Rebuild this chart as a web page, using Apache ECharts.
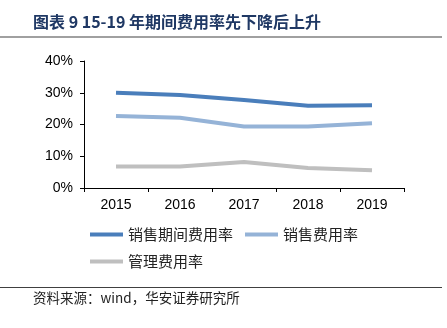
<!DOCTYPE html>
<html><head><meta charset="utf-8">
<script src="https://cdn.jsdelivr.net/npm/echarts@6/dist/echarts.min.js"></script>
<style>html,body{margin:0;padding:0;background:#fff}#c{width:447px;height:328px}</style>
</head><body><div id="c"></div>
<script>
const categories = ['2015','2016','2017','2018','2019'];
const seriesNames = ['销售期间费用率','销售费用率','管理费用率'];
const periodRate = [30.0, 29.3, 27.7, 25.9, 26.1];
const salesRate = [22.7, 22.1, 19.4, 19.4, 20.4];
const mgmtRate = [6.8, 6.8, 8.2, 6.3, 5.6];
const yTicks = [0, 10, 20, 30, 40];
const colors = ['#4A7EBB', '#95B3D7', '#BFBFBF'];

const chart = echarts.init(document.getElementById('c'));
const mk = (name, data, color) => ({
  name, type: 'line', data, symbol: 'none', smooth: false,
  lineStyle: { color, width: 4 }, itemStyle: { color }
});
const legendText = { fontFamily: 'Noto Sans CJK SC', fontSize: 15, color: '#222' };
chart.setOption({
  animation: false,
  title: {
    text: '图表 9 15-19 年期间费用率先下降后上升',
    left: 33, top: 14, padding: 0,
    textStyle: { fontFamily: 'Noto Sans CJK SC', fontWeight: 'bold', fontSize: 16, color: '#1F3864' }
  },
  graphic: [
    { type: 'rect', shape: { x: 0, y: 36, width: 442, height: 2 }, style: { fill: '#A0A0A0' } },
    { type: 'rect', shape: { x: 0, y: 287, width: 442, height: 1 }, style: { fill: '#404040' } },
    { type: 'text', left: 33, top: 291, style: { text: '资料来源：wind，华安证券研究所', font: '13.5px "Noto Sans CJK SC"', fill: '#222' } }
  ],
  legend: [{
    left: 90, top: 227, padding: 0, itemWidth: 33, itemHeight: 4, itemGap: 12,
    icon: 'rect', data: seriesNames.slice(0, 2), textStyle: legendText
  }, {
    left: 90, top: 254, padding: 0, itemWidth: 33, itemHeight: 4, itemGap: 12,
    icon: 'rect', data: seriesNames.slice(2), textStyle: legendText
  }],
  grid: { left: 84, right: 43, top: 61, bottom: 140 },
  xAxis: {
    type: 'category', data: categories, boundaryGap: true,
    axisLine: { lineStyle: { color: '#000', width: 1 } },
    axisTick: { show: true, length: 4, lineStyle: { color: '#000' } },
    axisLabel: { fontFamily: 'Liberation Sans', fontSize: 14, color: '#000', margin: 10 }
  },
  yAxis: {
    type: 'value', min: 0, max: 40, interval: 10,
    axisLine: { show: true, lineStyle: { color: '#000' } },
    axisTick: { show: true, length: 4, lineStyle: { color: '#000' } },
    splitLine: { show: false },
    axisLabel: { fontFamily: 'Liberation Sans', fontSize: 14, color: '#000', margin: 11,
      formatter: v => yTicks.includes(v) ? v + '%' : '' }
  },
  series: [
    mk(seriesNames[0], periodRate, colors[0]),
    mk(seriesNames[1], salesRate, colors[1]),
    mk(seriesNames[2], mgmtRate, colors[2])
  ]
});
</script></body></html>
